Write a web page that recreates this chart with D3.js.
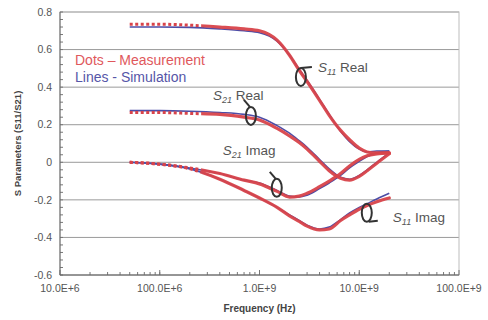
<!DOCTYPE html>
<html>
<head>
<meta charset="utf-8">
<script src="https://cdn.jsdelivr.net/npm/d3@7"></script>
<style>
  body { margin: 0; background: #fff; }
  svg { font-family: "Liberation Sans", Arial, sans-serif; }
</style>
</head>
<body>
<div id="chart"></div>
<script>
var freq = [50e6, 100e6, 200e6, 400e6, 700e6, 1e9, 1.5e9, 2e9, 2.5e9, 3e9, 4e9, 5e9, 6.5e9, 8e9, 10e9, 12e9, 15e9, 20e9];

// measurement (dots, red)
var s11RealMeas = [0.735, 0.735, 0.73, 0.72, 0.71, 0.70, 0.65, 0.57, 0.49, 0.43, 0.33, 0.25, 0.17, 0.12, 0.075, 0.055, 0.05, 0.05];
var s21RealMeas = [0.265, 0.265, 0.26, 0.255, 0.24, 0.225, 0.18, 0.14, 0.105, 0.07, 0.005, -0.045, -0.085, -0.095, -0.075, -0.045, -0.005, 0.045];
var s21ImagMeas = [0, -0.01, -0.03, -0.06, -0.095, -0.115, -0.155, -0.185, -0.18, -0.165, -0.13, -0.1, -0.06, -0.02, 0.015, 0.035, 0.045, 0.05];
var s11ImagMeas = [0, -0.01, -0.035, -0.09, -0.15, -0.19, -0.24, -0.285, -0.315, -0.34, -0.36, -0.355, -0.31, -0.28, -0.25, -0.23, -0.21, -0.19];

// simulation (lines, blue)
var s11RealSim = [0.72, 0.72, 0.718, 0.71, 0.70, 0.69, 0.645, 0.57, 0.495, 0.435, 0.335, 0.255, 0.165, 0.11, 0.07, 0.055, 0.06, 0.06];
var s21RealSim = [0.275, 0.275, 0.272, 0.265, 0.255, 0.24, 0.195, 0.155, 0.115, 0.08, 0.015, -0.035, -0.08, -0.09, -0.07, -0.04, 0.0, 0.05];
var s21ImagSim = [0, -0.01, -0.03, -0.06, -0.095, -0.11, -0.15, -0.18, -0.185, -0.175, -0.14, -0.11, -0.07, -0.03, 0.005, 0.03, 0.05, 0.06];
var s11ImagSim = [0, -0.01, -0.035, -0.09, -0.15, -0.19, -0.24, -0.28, -0.31, -0.335, -0.355, -0.345, -0.305, -0.27, -0.24, -0.22, -0.195, -0.165];

var xTicks = [1e7, 1e8, 1e9, 1e10, 1e11];
var xTickLabels = ["10.0E+6", "100.0E+6", "1.0E+9", "10.0E+9", "100.0E+9"];
var yTicks = [0.8, 0.6, 0.4, 0.2, 0, -0.2, -0.4, -0.6];
var yTickLabels = ["0.8", "0.6", "0.4", "0.2", "0", "-0.2", "-0.4", "-0.6"];

var annotations = [
  {sub: "11", name: "Real", f: 2.6e9, v: 0.454, dx: 17, dy: -5, tick: "right-top"},
  {sub: "21", name: "Real", f: 8.2e8, v: 0.247, dx: -38, dy: -16, tick: "left-top"},
  {sub: "21", name: "Imag", f: 1.49e9, v: -0.136, dx: -54, dy: -33, tick: "left-top"},
  {sub: "11", name: "Imag", f: 1.19e10, v: -0.269, dx: 26, dy: 9, tick: "right-bottom"}
];

var red = "#d8434a", blue = "#4d4da6", grey = "#555";

var width = 488, height = 320;
var margin = {top: 12, right: 29, bottom: 45, left: 60};

var svg = d3.select("#chart").append("svg").attr("width", width).attr("height", height);

var x = d3.scaleLog().domain([1e7, 1e11]).range([margin.left, width - margin.right]);
var y = d3.scaleLinear().domain([-0.6, 0.8]).range([height - margin.bottom, margin.top]);

// grid lines
svg.append("g").selectAll("line").data(yTicks).enter().append("line")
  .attr("x1", x.range()[0]).attr("x2", x.range()[1])
  .attr("y1", function(d) { return y(d); }).attr("y2", function(d) { return y(d); })
  .attr("stroke", "#9a9a9a").attr("stroke-width", 1);

// plot border
svg.append("rect")
  .attr("x", x.range()[0]).attr("y", y.range()[1])
  .attr("width", x.range()[1] - x.range()[0]).attr("height", y.range()[0] - y.range()[1])
  .attr("fill", "none").attr("stroke", "#bdbdbd");

// minor ticks on y (inward)
var yMinor = d3.range(-0.6, 0.8001, 0.04);
svg.append("g").selectAll("line").data(yMinor).enter().append("line")
  .attr("x1", x.range()[0]).attr("x2", x.range()[0] + 3)
  .attr("y1", function(d) { return y(d); }).attr("y2", function(d) { return y(d); })
  .attr("stroke", "#777");

// minor ticks on x (log, inward)
var xMinor = [];
[1e7, 1e8, 1e9, 1e10].forEach(function(dec) {
  for (var k = 1; k <= 10; k++) xMinor.push(dec * k);
});
svg.append("g").selectAll("line").data(xMinor).enter().append("line")
  .attr("x1", function(d) { return x(d); }).attr("x2", function(d) { return x(d); })
  .attr("y1", y.range()[0]).attr("y2", function(d, i) { return y.range()[0] - (i % 10 == 9 || i == 0 ? 5 : 3); })
  .attr("stroke", "#777");

// axis lines
svg.append("line").attr("x1", x.range()[0]).attr("x2", x.range()[0])
  .attr("y1", y.range()[0]).attr("y2", y.range()[1]).attr("stroke", "#666");
svg.append("line").attr("x1", x.range()[0]).attr("x2", x.range()[1])
  .attr("y1", y.range()[0]).attr("y2", y.range()[0]).attr("stroke", "#666");

// tick labels
svg.append("g").selectAll("text").data(yTicks).enter().append("text")
  .attr("x", x.range()[0] - 8).attr("y", function(d) { return y(d); })
  .attr("dy", "0.35em").attr("text-anchor", "end")
  .attr("font-size", 10.5).attr("fill", grey)
  .text(function(d, i) { return yTickLabels[i]; });

svg.append("g").selectAll("text").data(xTicks).enter().append("text")
  .attr("x", function(d) { return x(d); }).attr("y", y.range()[0] + 17)
  .attr("text-anchor", "middle")
  .attr("font-size", 10.5).attr("fill", grey)
  .text(function(d, i) { return xTickLabels[i]; });

// axis titles
svg.append("text")
  .attr("transform", "translate(21," + ((y.range()[0] + y.range()[1]) / 2) + ") rotate(-90)")
  .attr("text-anchor", "middle").attr("font-size", 9.5).attr("font-weight", "bold").attr("fill", "#444")
  .text("S Parameters (S11/S21)");

svg.append("text")
  .attr("x", (x.range()[0] + x.range()[1]) / 2).attr("y", 312)
  .attr("text-anchor", "middle").attr("font-size", 10).attr("font-weight", "bold").attr("fill", "#444")
  .text("Frequency (Hz)");

// curves
var line = d3.line()
  .x(function(d) { return x(d[0]); })
  .y(function(d) { return y(d[1]); })
  .curve(d3.curveMonotoneX);

function pairs(vals) { return freq.map(function(f, i) { return [f, vals[i]]; }); }

var sims = [s11RealSim, s21RealSim, s21ImagSim, s11ImagSim];
var meas = [s11RealMeas, s21RealMeas, s21ImagMeas, s11ImagMeas];

svg.append("clipPath").attr("id", "lowf").append("rect")
  .attr("x", 0).attr("y", 0).attr("width", x(2.6e8)).attr("height", height);
svg.append("clipPath").attr("id", "highf").append("rect")
  .attr("x", x(2.6e8)).attr("y", 0).attr("width", width).attr("height", height);

svg.append("g").selectAll("path").data(sims).enter().append("path")
  .attr("d", function(d) { return line(pairs(d)); })
  .attr("fill", "none").attr("stroke", blue).attr("stroke-width", 1.6);

var mg = svg.append("g");
mg.selectAll("path.lo").data(meas).enter().append("path")
  .attr("class", "lo")
  .attr("clip-path", "url(#lowf)")
  .attr("d", function(d) { return line(pairs(d)); })
  .attr("fill", "none").attr("stroke", red).attr("stroke-width", 3)
  .attr("stroke-dasharray", "3,2.5");
mg.selectAll("path.hi").data(meas).enter().append("path")
  .attr("class", "hi")
  .attr("clip-path", "url(#highf)")
  .attr("d", function(d) { return line(pairs(d)); })
  .attr("fill", "none").attr("stroke", red).attr("stroke-width", 3.2)
  .attr("stroke-linecap", "round").attr("opacity", 0.95);

// legend text
svg.append("text").attr("x", 75).attr("y", 65).attr("font-size", 14).attr("fill", "#e0585c")
  .text("Dots \u2013 Measurement");
svg.append("text").attr("x", 75).attr("y", 82).attr("font-size", 14).attr("fill", "#5656a8")
  .text("Lines - Simulation");

// hand drawn annotation loops and labels
var ann = svg.append("g");
annotations.forEach(function(a) {
  var cx = x(a.f), cy = y(a.v);
  ann.append("ellipse").attr("cx", cx).attr("cy", cy).attr("rx", 5).attr("ry", 9)
    .attr("fill", "none").attr("stroke", "#333").attr("stroke-width", 2);
  var t;
  if (a.tick == "right-top") t = [cx, cy - 9, cx + 11, cy - 10];
  else if (a.tick == "left-top") t = [cx - 1, cy - 9, cx - 7, cy - 16];
  else t = [cx + 2, cy + 9, cx + 11, cy + 8];
  ann.append("line").attr("x1", t[0]).attr("y1", t[1]).attr("x2", t[2]).attr("y2", t[3])
    .attr("stroke", "#333").attr("stroke-width", 2);

  var txt = ann.append("text").attr("x", cx + a.dx).attr("y", cy + a.dy)
    .attr("font-size", 13.5).attr("fill", "#555");
  txt.append("tspan").attr("font-style", "italic").text("S");
  txt.append("tspan").attr("font-style", "italic").attr("font-size", 9).attr("dy", 3).text(a.sub);
  txt.append("tspan").attr("dy", -3).text(" " + a.name);
});
</script>
</body>
</html>
